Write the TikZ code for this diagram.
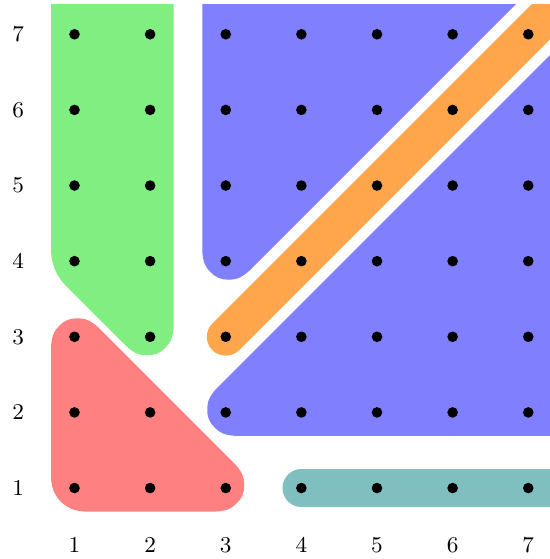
\documentclass[tikz,border=0pt]{standalone}
\usepackage{tikz}
\definecolor{cgreen}{RGB}{128,238,128}
\definecolor{cblue}{RGB}{128,128,255}
\definecolor{cred}{RGB}{255,128,128}
\definecolor{corange}{RGB}{255,166,77}
\definecolor{cteal}{RGB}{128,191,191}
\tikzset{
  region/.style={fill=#1, draw=#1, line width=0.62cm, line join=round, rounded corners=0.13cm},
  band/.style={draw=#1, line width=0.5cm, line cap=round},
  peg/.style={fill=black},
  lab/.style={inner sep=0pt, font=\fontsize{8.5}{10}\selectfont}
}
\begin{document}
\begin{tikzpicture}[x=1cm,y=1cm]
\useasboundingbox (0.015,0.062) rectangle (7.287,7.4535);
\begin{scope}
\clip (0.4,0.4) rectangle (7.287,7.40);
% green region
\path[region=cgreen] (1,4) -- (1,8.5) -- (2,8.5) -- (2,3) -- cycle;
% red region
\path[region=cred] (1,1) -- (3,1) -- (1,3) -- cycle;
% blue upper region
\path[region=cblue] (3,4) -- (3,8.5) -- (7.5,8.5) -- cycle;
% blue lower region
\path[region=cblue] (3,2) -- (8.5,2) -- (8.5,7.5) -- cycle;
% orange band
\coordinate (o1) at (3,3);
\coordinate (o2) at (8.5,8.5);
\draw[band=corange] (o1) -- (o2);
% teal band
\coordinate (t1) at (4,1);
\coordinate (t2) at (8.5,1);
\draw[band=cteal] (t1) -- (t2);
\end{scope}
% pegs
\foreach \i in {1,...,7}{
  \foreach \j in {1,...,7}{
    \fill[peg] (\i,\j) circle (0.07);
  }
}
% labels
\foreach \i in {1,...,7}{
  \node[lab] (xl\i) at (\i,0.245) {\i};
  \node[lab] (yl\i) at (0.257,\i) {\i};
}
\end{tikzpicture}
\end{document}
